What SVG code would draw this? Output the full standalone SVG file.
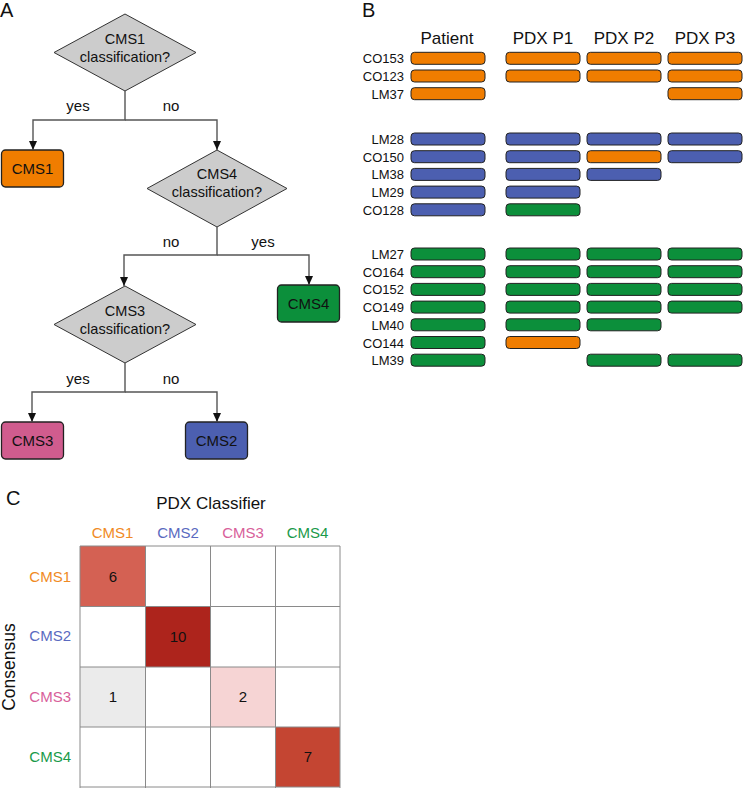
<svg xmlns="http://www.w3.org/2000/svg" width="743" height="788" viewBox="0 0 743 788">
<style>
text{font-family:"Liberation Sans",Arial,sans-serif;fill:#111}
.panel{font-size:20px}
.dia{fill:#cccccc;stroke:#333;stroke-width:1}
.dt{font-size:14.5px;text-anchor:middle}
.box{stroke:#222;stroke-width:1.3}
.bt{font-size:15px;text-anchor:middle}
.lbl{font-size:15px;text-anchor:middle}
.conn{fill:none;stroke:#555;stroke-width:1.4}
.o{fill:#f07d00}.b{fill:#4c5fb0}.g{fill:#0c8f3b}.p{fill:#d05c8e}
.bar{stroke:#222;stroke-width:1}
.rl{font-size:13px;text-anchor:end}
.hd{font-size:17px;text-anchor:middle}
.ct{font-size:15px;text-anchor:middle}
.grid{fill:none;stroke:#8a8a8a;stroke-width:1}
</style>
<defs>
<marker id="arr" markerWidth="9" markerHeight="8" refX="9" refY="4" orient="auto" markerUnits="userSpaceOnUse"><path d="M0,0 L9,4 L0,8 z" fill="#111"/></marker>
</defs>

<!-- Panel A -->
<text class="panel" x="0" y="17">A</text>
<g id="q1">
<polygon class="dia" points="125,14 196,52.5 125,91 54,52.5"/>
<text class="dt" x="125" y="44">CMS1</text>
<text class="dt" x="125" y="62">classification?</text>
</g>
<g id="cms1">
<rect class="box o" x="1.5" y="150" width="62" height="37" rx="4"/>
<text class="bt" x="32.5" y="174">CMS1</text>
</g>
<g id="q4">
<polygon class="dia" points="217,150 287,188.5 217,227 147,188.5"/>
<text class="dt" x="217" y="179">CMS4</text>
<text class="dt" x="217" y="197">classification?</text>
</g>
<g id="cms4">
<rect class="box g" x="277.5" y="285" width="62" height="37" rx="4"/>
<text class="bt" x="308.5" y="309">CMS4</text>
</g>
<g id="q3">
<polygon class="dia" points="125,286 196,324.5 125,363 54,324.5"/>
<text class="dt" x="125" y="316">CMS3</text>
<text class="dt" x="125" y="334">classification?</text>
</g>
<g id="cms3">
<rect class="box p" x="1.5" y="422" width="62" height="37" rx="4"/>
<text class="bt" x="32.5" y="446">CMS3</text>
</g>
<g id="cms2">
<rect class="box b" x="185.5" y="422" width="62" height="37" rx="4"/>
<text class="bt" x="216.5" y="446">CMS2</text>
</g>
<g id="connectors">
<path class="conn" d="M125,91 V120 H33 V150" marker-end="url(#arr)"/>
<path class="conn" d="M125,120 H217 V150" marker-end="url(#arr)"/>
<path class="conn" d="M217,227 V255 H124 V286" marker-end="url(#arr)"/>
<path class="conn" d="M217,255 H309 V285" marker-end="url(#arr)"/>
<path class="conn" d="M125,363 V392 H32 V422" marker-end="url(#arr)"/>
<path class="conn" d="M125,392 H217 V422" marker-end="url(#arr)"/>
<text class="lbl" x="78" y="111">yes</text>
<text class="lbl" x="171" y="111">no</text>
<text class="lbl" x="171" y="247">no</text>
<text class="lbl" x="263" y="247">yes</text>
<text class="lbl" x="78" y="384">yes</text>
<text class="lbl" x="171" y="384">no</text>
</g>

<!-- Panel B -->
<text class="panel" x="362" y="17">B</text>
<g id="headers">
<text class="hd" x="447" y="44">Patient</text>
<text class="hd" x="543" y="44">PDX P1</text>
<text class="hd" x="624" y="44">PDX P2</text>
<text class="hd" x="705" y="44">PDX P3</text>
</g>
<g id="rows">
<!-- CO153 -->
<text class="rl" x="404" y="63">CO153</text>
<rect class="bar o" x="411" y="52.3" width="74" height="12" rx="3.5"/>
<rect class="bar o" x="506" y="52.3" width="74" height="12" rx="3.5"/>
<rect class="bar o" x="587" y="52.3" width="74" height="12" rx="3.5"/>
<rect class="bar o" x="668" y="52.3" width="74" height="12" rx="3.5"/>
<!-- CO123 -->
<text class="rl" x="404" y="81">CO123</text>
<rect class="bar o" x="411" y="70" width="74" height="12" rx="3.5"/>
<rect class="bar o" x="506" y="70" width="74" height="12" rx="3.5"/>
<rect class="bar o" x="587" y="70" width="74" height="12" rx="3.5"/>
<rect class="bar o" x="668" y="70" width="74" height="12" rx="3.5"/>
<!-- LM37 -->
<text class="rl" x="404" y="98.5">LM37</text>
<rect class="bar o" x="411" y="87.7" width="74" height="12" rx="3.5"/>
<rect class="bar o" x="668" y="87.7" width="74" height="12" rx="3.5"/>
<!-- LM28 -->
<text class="rl" x="404" y="144">LM28</text>
<rect class="bar b" x="411" y="133" width="74" height="12" rx="3.5"/>
<rect class="bar b" x="506" y="133" width="74" height="12" rx="3.5"/>
<rect class="bar b" x="587" y="133" width="74" height="12" rx="3.5"/>
<rect class="bar b" x="668" y="133" width="74" height="12" rx="3.5"/>
<!-- CO150 -->
<text class="rl" x="404" y="161.7">CO150</text>
<rect class="bar b" x="411" y="150.7" width="74" height="12" rx="3.5"/>
<rect class="bar b" x="506" y="150.7" width="74" height="12" rx="3.5"/>
<rect class="bar o" x="587" y="150.7" width="74" height="12" rx="3.5"/>
<rect class="bar b" x="668" y="150.7" width="74" height="12" rx="3.5"/>
<!-- LM38 -->
<text class="rl" x="404" y="179.4">LM38</text>
<rect class="bar b" x="411" y="168.4" width="74" height="12" rx="3.5"/>
<rect class="bar b" x="506" y="168.4" width="74" height="12" rx="3.5"/>
<rect class="bar b" x="587" y="168.4" width="74" height="12" rx="3.5"/>
<!-- LM29 -->
<text class="rl" x="404" y="197.1">LM29</text>
<rect class="bar b" x="411" y="186.1" width="74" height="12" rx="3.5"/>
<rect class="bar b" x="506" y="186.1" width="74" height="12" rx="3.5"/>
<!-- CO128 -->
<text class="rl" x="404" y="214.8">CO128</text>
<rect class="bar b" x="411" y="203.8" width="74" height="12" rx="3.5"/>
<rect class="bar g" x="506" y="203.8" width="74" height="12" rx="3.5"/>
<!-- LM27 -->
<text class="rl" x="404" y="259">LM27</text>
<rect class="bar g" x="411" y="248" width="74" height="12" rx="3.5"/>
<rect class="bar g" x="506" y="248" width="74" height="12" rx="3.5"/>
<rect class="bar g" x="587" y="248" width="74" height="12" rx="3.5"/>
<rect class="bar g" x="668" y="248" width="74" height="12" rx="3.5"/>
<!-- CO164 -->
<text class="rl" x="404" y="276.7">CO164</text>
<rect class="bar g" x="411" y="265.7" width="74" height="12" rx="3.5"/>
<rect class="bar g" x="506" y="265.7" width="74" height="12" rx="3.5"/>
<rect class="bar g" x="587" y="265.7" width="74" height="12" rx="3.5"/>
<rect class="bar g" x="668" y="265.7" width="74" height="12" rx="3.5"/>
<!-- CO152 -->
<text class="rl" x="404" y="294.4">CO152</text>
<rect class="bar g" x="411" y="283.4" width="74" height="12" rx="3.5"/>
<rect class="bar g" x="506" y="283.4" width="74" height="12" rx="3.5"/>
<rect class="bar g" x="587" y="283.4" width="74" height="12" rx="3.5"/>
<rect class="bar g" x="668" y="283.4" width="74" height="12" rx="3.5"/>
<!-- CO149 -->
<text class="rl" x="404" y="312.1">CO149</text>
<rect class="bar g" x="411" y="301.1" width="74" height="12" rx="3.5"/>
<rect class="bar g" x="506" y="301.1" width="74" height="12" rx="3.5"/>
<rect class="bar g" x="587" y="301.1" width="74" height="12" rx="3.5"/>
<rect class="bar g" x="668" y="301.1" width="74" height="12" rx="3.5"/>
<!-- LM40 -->
<text class="rl" x="404" y="329.8">LM40</text>
<rect class="bar g" x="411" y="318.8" width="74" height="12" rx="3.5"/>
<rect class="bar g" x="506" y="318.8" width="74" height="12" rx="3.5"/>
<rect class="bar g" x="587" y="318.8" width="74" height="12" rx="3.5"/>
<!-- CO144 -->
<text class="rl" x="404" y="347.5">CO144</text>
<rect class="bar g" x="411" y="336.5" width="74" height="12" rx="3.5"/>
<rect class="bar o" x="506" y="336.5" width="74" height="12" rx="3.5"/>
<!-- LM39 -->
<text class="rl" x="404" y="365.2">LM39</text>
<rect class="bar g" x="411" y="354.2" width="74" height="12" rx="3.5"/>
<rect class="bar g" x="587" y="354.2" width="74" height="12" rx="3.5"/>
<rect class="bar g" x="668" y="354.2" width="74" height="12" rx="3.5"/>
</g>

<!-- Panel C -->
<text class="panel" x="6" y="505">C</text>
<g id="heatmap">
<text class="hd" x="211" y="509">PDX Classifier</text>
<text class="ct" x="112.5" y="538" style="fill:#f08a24">CMS1</text>
<text class="ct" x="178" y="538" style="fill:#5a6ac0">CMS2</text>
<text class="ct" x="243" y="538" style="fill:#d8609a">CMS3</text>
<text class="ct" x="307.5" y="538" style="fill:#1a9a4a">CMS4</text>
<text x="71" y="582" style="font-size:15px;text-anchor:end;fill:#f08a24">CMS1</text>
<text x="71" y="641" style="font-size:15px;text-anchor:end;fill:#5a6ac0">CMS2</text>
<text x="71" y="702" style="font-size:15px;text-anchor:end;fill:#d8609a">CMS3</text>
<text x="71" y="762" style="font-size:15px;text-anchor:end;fill:#1a9a4a">CMS4</text>
<text transform="translate(14.5,667) rotate(-90)" style="font-size:17.5px;text-anchor:middle">Consensus</text>
<rect x="80" y="546" width="65.5" height="60.5" fill="#d46153"/>
<rect x="145.5" y="606.5" width="65" height="60.5" fill="#ad241c"/>
<rect x="80" y="667" width="65.5" height="60" fill="#ebebeb"/>
<rect x="210.5" y="667" width="65" height="60" fill="#f6d4d4"/>
<rect x="275.5" y="727" width="64.5" height="60" fill="#c44532"/>
<path class="grid" d="M80,546 H340 M80,606.5 H340 M80,667 H340 M80,727 H340 M80,787 H340 M80,546 V788 M145.5,546 V788 M210.5,546 V788 M275.5,546 V788 M340,546 V788"/>
<text class="ct" x="113" y="581.5">6</text>
<text class="ct" x="178" y="642">10</text>
<text class="ct" x="113" y="702">1</text>
<text class="ct" x="243" y="702">2</text>
<text class="ct" x="308" y="762">7</text>
</g>
</svg>
